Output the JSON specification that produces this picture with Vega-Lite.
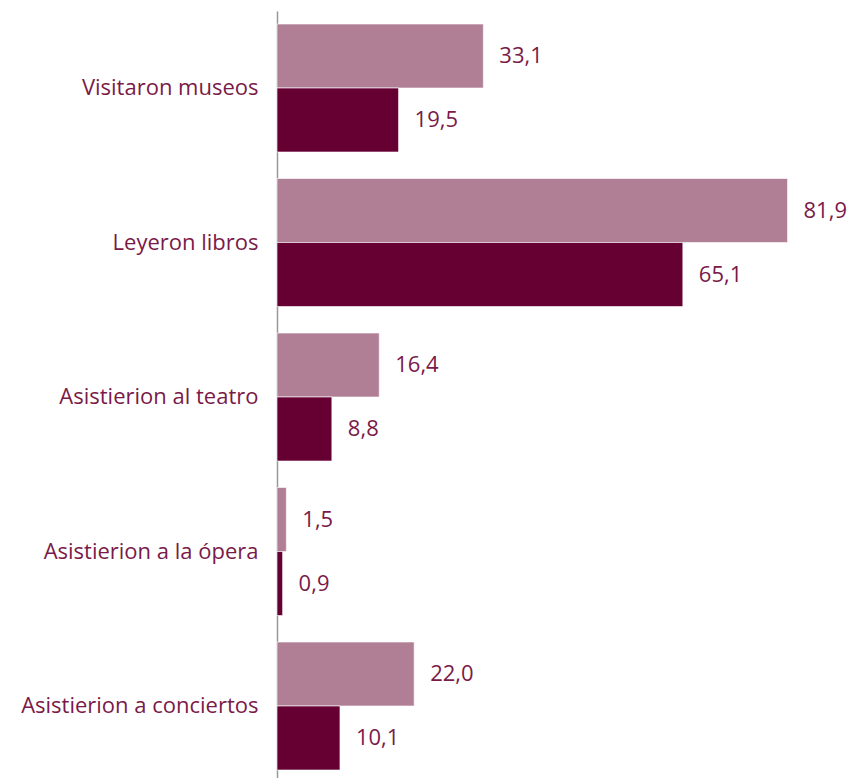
{
  "$schema": "https://vega.github.io/schema/vega-lite/v6.json",
  "width": 576,
  "height": 767,
  "autosize": {"type": "none"},
  "padding": {"left": 277, "top": 11, "right": 1, "bottom": 0},
  "background": "#ffffff",
  "config": {
    "view": {"stroke": null},
    "locale": {"number": {"decimal": ",", "thousands": ".", "grouping": [3], "currency": ["", " €"]}}
  },
  "data": {
    "values": [
      {"actividad": "Visitaron museos", "serie": "A", "valor": 33.1},
      {"actividad": "Visitaron museos", "serie": "B", "valor": 19.5},
      {"actividad": "Leyeron libros", "serie": "A", "valor": 81.9},
      {"actividad": "Leyeron libros", "serie": "B", "valor": 65.1},
      {"actividad": "Asistierion al teatro\u00a0", "serie": "A", "valor": 16.4},
      {"actividad": "Asistierion al teatro\u00a0", "serie": "B", "valor": 8.8},
      {"actividad": "Asistierion a la ópera\u00a0", "serie": "A", "valor": 1.5},
      {"actividad": "Asistierion a la ópera\u00a0", "serie": "B", "valor": 0.9},
      {"actividad": "Asistierion a conciertos", "serie": "A", "valor": 22.0},
      {"actividad": "Asistierion a conciertos", "serie": "B", "valor": 10.1}
    ]
  },
  "encoding": {
    "y": {
      "field": "actividad",
      "type": "nominal",
      "sort": null,
      "scale": {"paddingInner": 0.1715, "paddingOuter": 0.068, "align": 0.62},
      "axis": {
        "title": null,
        "ticks": false,
        "domainColor": "#999999",
        "domainWidth": 1.5,
        "labelFont": "Open Sans",
        "labelFontSize": 22,
        "labelColor": "#7a1a48",
        "labelPadding": 19,
        "labelLimit": 0
      }
    },
    "yOffset": {"field": "serie", "type": "nominal", "sort": ["A", "B"]},
    "x": {
      "field": "valor",
      "type": "quantitative",
      "scale": {"domain": [0, 92.4], "nice": false, "zero": true},
      "axis": null
    }
  },
  "layer": [
    {
      "mark": {"type": "bar", "stroke": "#ffffff", "strokeWidth": 1, "strokeOpacity": 0.6},
      "encoding": {
        "color": {
          "field": "serie",
          "type": "nominal",
          "scale": {"domain": ["A", "B"], "range": ["#b07f96", "#660033"]},
          "legend": null
        }
      }
    },
    {
      "mark": {"type": "text", "align": "left", "baseline": "middle", "dx": 16, "font": "Open Sans", "fontSize": 22, "color": "#7a1a48"},
      "encoding": {
        "text": {"field": "valor", "type": "quantitative", "format": ".1f"}
      }
    }
  ]
}
